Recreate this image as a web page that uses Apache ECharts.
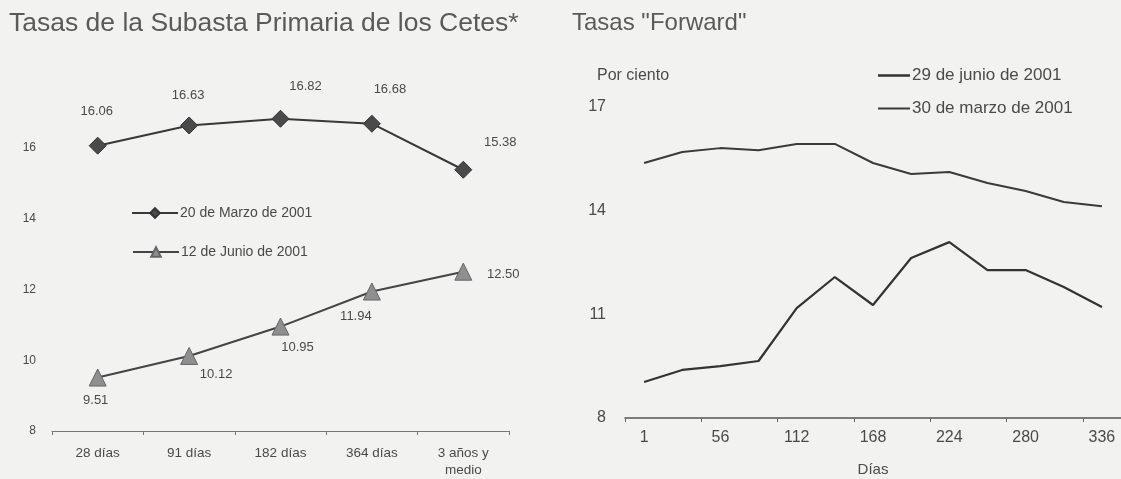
<!DOCTYPE html>
<html>
<head>
<meta charset="utf-8">
<script src="https://cdn.jsdelivr.net/npm/echarts@6/dist/echarts.min.js"></script>
<style>
html,body{margin:0;padding:0;background:#f2f2f0;}
#c{width:1121px;height:479px;}
</style>
</head>
<body>
<div id="c"></div>
<script>
// ---- Left chart data ----
const leftCategories = ['28 días', '91 días', '182 días', '364 días', '3 años y\nmedio'];
const marzoValues = [16.06, 16.63, 16.82, 16.68, 15.38];
const junioValues = [9.51, 10.12, 10.95, 11.94, 12.50];
const leftSeriesNames = ['20 de Marzo de 2001', '12 de Junio de 2001'];
const leftYTicks = [8, 10, 12, 14, 16];

// ---- Right chart data ----
const rightCategories = ['1', '28', '56', '84', '112', '140', '168', '196', '224', '252', '280', '308', '336'];
const junio29Values = [9.04, 9.39, 9.50, 9.65, 11.18, 12.08, 11.27, 12.63, 13.09, 12.28, 12.28, 11.79, 11.21];
const marzo30Values = [15.38, 15.70, 15.81, 15.75, 15.93, 15.93, 15.38, 15.06, 15.12, 14.80, 14.57, 14.25, 14.13];
const rightSeriesNames = ['29 de junio de 2001', '30 de marzo de 2001'];
const rightYTicks = [8, 11, 14, 17];

// ---- label placement (styling, not data) ----
const marzoLabelOffsets = [[-1, -34], [-1, -30], [25, -32], [18, -34], [37, -27]];
const junioLabelOffsets = [[-2, 23], [27, 18], [17, 21], [-16, 25], [40, 3]];

const FONT = '"Liberation Sans", Arial, sans-serif';
const TXT = '#4a4a4a';

function labelled(values, offsets) {
  return values.map((v, i) => ({
    value: v,
    label: { offset: offsets[i] }
  }));
}

const chart = echarts.init(document.getElementById('c'), null, { renderer: 'canvas' });

const option = {
  backgroundColor: '#f2f2f0',
  animation: false,
  textStyle: { fontFamily: FONT, color: TXT },
  title: [
    { text: 'Tasas de la Subasta Primaria de los Cetes*', left: 4, top: 5,
      textStyle: { fontFamily: FONT, fontSize: 26.5, fontWeight: 'normal', color: '#5a5a5a' } },
    { text: 'Tasas "Forward"', left: 567, top: 6,
      textStyle: { fontFamily: FONT, fontSize: 24, fontWeight: 'normal', color: '#5a5a5a' } },
    { text: 'Por ciento', left: 592, top: 63,
      textStyle: { fontFamily: FONT, fontSize: 16, fontWeight: 'normal', color: TXT } }
  ],
  legend: [
    { data: [leftSeriesNames[0]], left: 126, top: 201, itemWidth: 46, itemHeight: 12,
      textStyle: { fontFamily: FONT, fontSize: 14, color: TXT, padding: [0, 0, 0, -3] } },
    { data: [leftSeriesNames[1]], left: 127, top: 240, itemWidth: 46, itemHeight: 12,
      textStyle: { fontFamily: FONT, fontSize: 14, color: TXT, padding: [0, 0, 0, -3] } },
    { data: [{ name: rightSeriesNames[0], icon: 'rect' }], left: 873, top: 62, itemWidth: 32, itemHeight: 2.5,
      textStyle: { fontFamily: FONT, fontSize: 17, color: TXT, padding: [0, 0, 0, -3] } },
    { data: [{ name: rightSeriesNames[1], icon: 'rect' }], left: 873, top: 95, itemWidth: 32, itemHeight: 2,
      textStyle: { fontFamily: FONT, fontSize: 17, color: TXT, padding: [0, 0, 0, -3] } }
  ],
  grid: [
    { left: 52, top: 77, width: 457, height: 354, outerBoundsMode: 'none', containLabel: false },
    { left: 625, top: 107, width: 496, height: 311, outerBoundsMode: 'none', containLabel: false }
  ],
  xAxis: [
    { type: 'category', gridIndex: 0, data: leftCategories, boundaryGap: true,
      axisLine: { lineStyle: { color: '#777', width: 1 } },
      axisTick: { show: true, length: 4, lineStyle: { color: '#777' } },
      axisLabel: { fontSize: 13.5, color: TXT, margin: 14, lineHeight: 17, interval: 0 } },
    { type: 'category', gridIndex: 1, data: rightCategories, boundaryGap: true,
      name: 'Días', nameLocation: 'middle', nameGap: 44,
      nameTextStyle: { fontSize: 15, color: TXT },
      axisLine: { lineStyle: { color: '#555', width: 1.5 } },
      axisTick: { show: true, length: 4, lineStyle: { color: '#666' } },
      axisLabel: { fontSize: 16, color: TXT, margin: 12, interval: 1 } }
  ],
  yAxis: [
    { type: 'value', gridIndex: 0, min: 8, max: 18, interval: 2,
      axisLine: { show: false }, axisTick: { show: false }, splitLine: { show: false },
      axisLabel: { fontSize: 12, color: TXT, margin: 16, showMaxLabel: false,
        formatter: v => (leftYTicks.includes(v) ? String(v) : '') } },
    { type: 'value', gridIndex: 1, min: 8, max: 17, interval: 3,
      axisLine: { show: false }, axisTick: { show: false }, splitLine: { show: false },
      axisLabel: { fontSize: 16, color: TXT, margin: 19,
        formatter: v => (rightYTicks.includes(v) ? String(v) : '') } }
  ],
  series: [
    { name: leftSeriesNames[0], type: 'line', xAxisIndex: 0, yAxisIndex: 0,
      data: labelled(marzoValues, marzoLabelOffsets),
      symbol: 'diamond', symbolSize: 17,
      lineStyle: { color: '#383838', width: 2 },
      itemStyle: { color: '#4a4a4a', borderColor: '#333', borderWidth: 1 },
      label: { show: true, position: 'inside', fontSize: 13, color: TXT,
        formatter: p => p.value.toFixed(2) } },
    { name: leftSeriesNames[1], type: 'line', xAxisIndex: 0, yAxisIndex: 0,
      data: labelled(junioValues, junioLabelOffsets),
      symbol: 'triangle', symbolSize: 17,
      lineStyle: { color: '#444', width: 2 },
      itemStyle: { color: '#8f8f8f', borderColor: '#666', borderWidth: 1 },
      label: { show: true, position: 'inside', fontSize: 13, color: TXT,
        formatter: p => p.value.toFixed(2) } },
    { name: rightSeriesNames[0], type: 'line', xAxisIndex: 1, yAxisIndex: 1,
      data: junio29Values, symbol: 'none',
      lineStyle: { color: '#333', width: 2.2 },
      itemStyle: { color: '#333' } },
    { name: rightSeriesNames[1], type: 'line', xAxisIndex: 1, yAxisIndex: 1,
      data: marzo30Values, symbol: 'none',
      lineStyle: { color: '#3a3a3a', width: 2 },
      itemStyle: { color: '#3a3a3a' } }
  ]
};
chart.setOption(option);
</script>
</body>
</html>
